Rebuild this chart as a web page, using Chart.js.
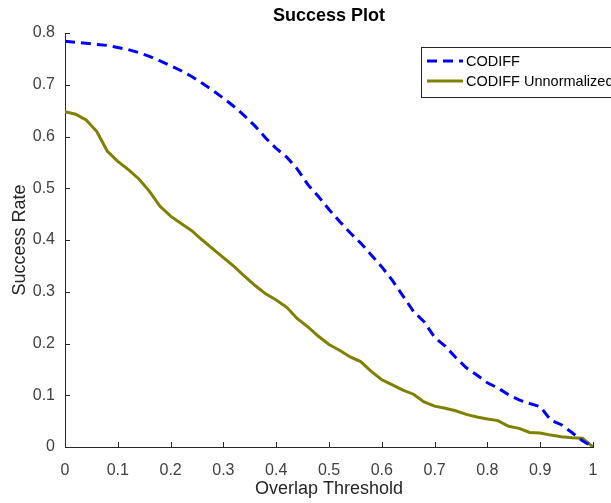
<!DOCTYPE html>
<html>
<head>
<meta charset="utf-8">
<script src="https://cdn.jsdelivr.net/npm/chart.js@4"></script>
<style>
  html, body { margin: 0; padding: 0; background: #fff; }
  #wrap { width: 611px; height: 503px; }
</style>
</head>
<body>
<div id="wrap"><canvas id="successChart" width="611" height="503"></canvas></div>
<script>
// overlap thresholds (x)
const thresholds = [0, 0.02, 0.04, 0.06, 0.08, 0.1, 0.12, 0.14, 0.16, 0.18,
  0.2, 0.22, 0.24, 0.26, 0.28, 0.3, 0.32, 0.34, 0.36, 0.38,
  0.4, 0.42, 0.44, 0.46, 0.48, 0.5, 0.52, 0.54, 0.56, 0.58,
  0.6, 0.62, 0.64, 0.66, 0.68, 0.7, 0.72, 0.74, 0.76, 0.78,
  0.8, 0.82, 0.84, 0.86, 0.88, 0.9, 0.92, 0.94, 0.96, 0.98, 1];

const codiff = [0.784, 0.782, 0.780, 0.778, 0.776, 0.772, 0.768, 0.762, 0.755, 0.746,
  0.737, 0.727, 0.716, 0.703, 0.689, 0.674, 0.658, 0.640, 0.620, 0.597,
  0.577, 0.560, 0.537, 0.507, 0.484, 0.459, 0.436, 0.414, 0.394, 0.371,
  0.348, 0.322, 0.292, 0.262, 0.242, 0.212, 0.195, 0.173, 0.153, 0.139,
  0.124, 0.114, 0.101, 0.091, 0.084, 0.078, 0.052, 0.043, 0.028, 0.012, 0.0];

const codiffUnnorm = [0.648, 0.643, 0.632, 0.610, 0.572, 0.552, 0.536, 0.518, 0.494, 0.465,
  0.446, 0.432, 0.418, 0.400, 0.383, 0.366, 0.349, 0.330, 0.312, 0.296,
  0.284, 0.270, 0.248, 0.232, 0.214, 0.198, 0.187, 0.174, 0.165, 0.146,
  0.130, 0.120, 0.110, 0.102, 0.087, 0.079, 0.075, 0.070, 0.063, 0.058,
  0.054, 0.051, 0.040, 0.036, 0.028, 0.027, 0.023, 0.020, 0.018, 0.017, 0.0];

const seriesNames = ['CODIFF', 'CODIFF Unnormalized'];
const xTicks = [0, 0.1, 0.2, 0.3, 0.4, 0.5, 0.6, 0.7, 0.8, 0.9, 1];
const yTicks = [0, 0.1, 0.2, 0.3, 0.4, 0.5, 0.6, 0.7, 0.8];

const toPoints = ys => thresholds.map((x, i) => ({ x: x, y: ys[i] }));

const FONT = "'Liberation Sans', Arial, Helvetica, sans-serif";
const AXIS = '#262626';

// inward ticks like MATLAB
const innerTicks = {
  id: 'innerTicks',
  afterDraw(chart) {
    const ctx = chart.ctx, xs = chart.scales.x, ys = chart.scales.y;
    const a = chart.chartArea;
    ctx.save();
    ctx.strokeStyle = AXIS;
    ctx.lineWidth = 1;
    ctx.beginPath();
    xTicks.forEach(v => {
      const px = Math.round(xs.getPixelForValue(v)) + 0.5;
      ctx.moveTo(px, a.bottom);
      ctx.lineTo(px, a.bottom - 5);
    });
    yTicks.forEach(v => {
      const py = Math.round(ys.getPixelForValue(v)) + 0.5;
      ctx.moveTo(a.left, py);
      ctx.lineTo(a.left + 5, py);
    });
    ctx.stroke();
    ctx.restore();
  }
};

// boxed legend inside the plot, top right
const boxLegend = {
  id: 'boxLegend',
  afterDraw(chart) {
    const ctx = chart.ctx;
    const bx = 421.5, by = 47.5, bw = 210, bh = 50;
    ctx.save();
    ctx.fillStyle = '#fff';
    ctx.fillRect(bx, by, bw, bh);
    ctx.strokeStyle = AXIS;
    ctx.lineWidth = 1;
    ctx.strokeRect(bx, by, bw, bh);
    chart.data.datasets.forEach((ds, i) => {
      const y = 61 + i * 20;
      ctx.beginPath();
      ctx.strokeStyle = ds.borderColor;
      ctx.lineWidth = ds.borderWidth;
      ctx.setLineDash(ds.borderDash || []);
      ctx.moveTo(427, y);
      ctx.lineTo(463, y);
      ctx.stroke();
      ctx.setLineDash([]);
      ctx.fillStyle = '#000';
      ctx.font = '14.5px ' + FONT;
      ctx.textBaseline = 'middle';
      ctx.fillText(ds.label, 466, y + 1);
    });
    ctx.restore();
  }
};

new Chart(document.getElementById('successChart'), {
  type: 'line',
  data: {
    datasets: [{
      label: seriesNames[0],
      data: toPoints(codiff),
      borderColor: '#0000ff',
      borderWidth: 3,
      borderDash: [10, 6],
      pointRadius: 0,
      tension: 0
    }, {
      label: seriesNames[1],
      data: toPoints(codiffUnnorm),
      borderColor: '#808000',
      borderWidth: 3,
      pointRadius: 0,
      tension: 0
    }]
  },
  options: {
    responsive: false,
    animation: false,
    layout: { padding: { top: 0, right: 18, left: 0, bottom: 0 } },
    plugins: {
      legend: { display: false },
      tooltip: { enabled: false },
      title: {
        display: true,
        fullSize: false,
        text: 'Success Plot',
        color: '#000',
        font: { family: FONT, size: 18, weight: 'bold' },
        padding: { top: 5, bottom: 6.4 }
      }
    },
    scales: {
      x: {
        type: 'linear',
        min: 0,
        max: 1,
        afterBuildTicks: s => { s.ticks = xTicks.map(v => ({ value: v })); },
        afterFit: s => { s.height = 56; },
        grid: { display: false },
        border: { display: true, color: AXIS, width: 1 },
        ticks: {
          color: '#404040',
          padding: 6,
          maxRotation: 0,
          font: { family: FONT, size: 16 },
          callback: v => String(+v.toFixed(1))
        },
        title: {
          display: true,
          text: 'Overlap Threshold',
          color: '#262626',
          font: { family: FONT, size: 18 },
          padding: { top: 0, bottom: 3 }
        }
      },
      y: {
        min: 0,
        max: 0.8,
        afterBuildTicks: s => { s.ticks = yTicks.map(v => ({ value: v })); },
        afterFit: s => { s.width = 65; },
        grid: { display: false },
        border: { display: true, color: AXIS, width: 1 },
        ticks: {
          color: '#404040',
          padding: 2,
          font: { family: FONT, size: 16 },
          callback: v => String(+v.toFixed(1))
        },
        title: {
          display: true,
          text: 'Success Rate',
          color: '#262626',
          font: { family: FONT, size: 18 },
          padding: { top: 9, bottom: 0 }
        }
      }
    }
  },
  plugins: [innerTicks, boxLegend]
});
</script>
</body>
</html>
